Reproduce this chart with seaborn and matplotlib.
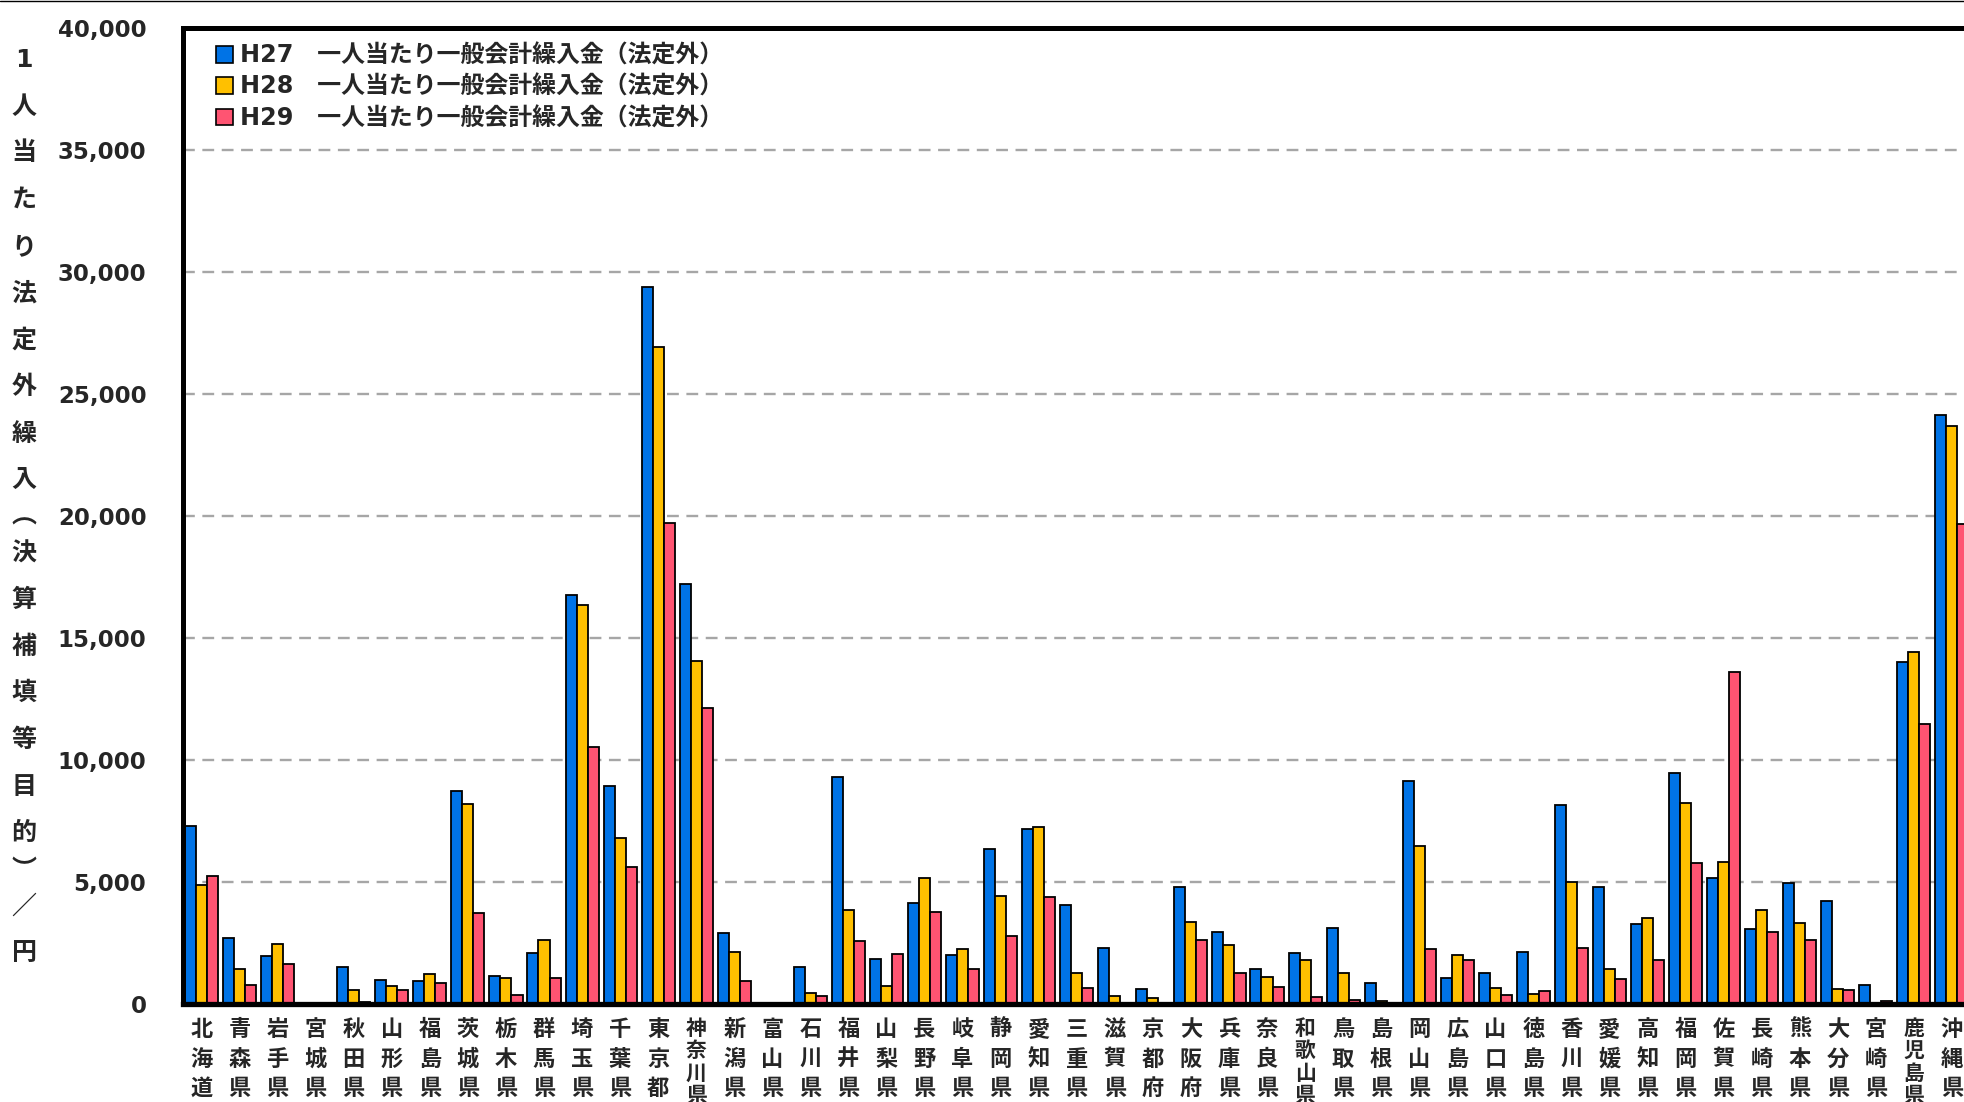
import matplotlib
matplotlib.use("Agg")
import matplotlib.pyplot as plt
import seaborn as sns
import pandas as pd
from matplotlib.lines import Line2D
from matplotlib.patches import Patch
from matplotlib.ticker import FuncFormatter, MultipleLocator

# ---- data -------------------------------------------------------------
prefectures = ["北海道", "青森県", "岩手県", "宮城県", "秋田県", "山形県", "福島県",
               "茨城県", "栃木県", "群馬県", "埼玉県", "千葉県", "東京都", "神奈川県",
               "新潟県", "富山県", "石川県", "福井県", "山梨県", "長野県", "岐阜県",
               "静岡県", "愛知県", "三重県", "滋賀県", "京都府", "大阪府", "兵庫県",
               "奈良県", "和歌山県", "鳥取県", "島根県", "岡山県", "広島県", "山口県",
               "徳島県", "香川県", "愛媛県", "高知県", "福岡県", "佐賀県", "長崎県",
               "熊本県", "大分県", "宮崎県", "鹿児島県", "沖縄県"]

h27 = [7300, 2690, 1980, 0, 1520, 970, 940, 8730, 1160, 2080, 16740, 8940, 29360,
       17190, 2920, 0, 1500, 9300, 1840, 4120, 2010, 6360, 7180, 4070, 2300, 630,
       4810, 2940, 1420, 2100, 3130, 870, 9130, 1080, 1270, 2130, 8140, 4810, 3290,
       9480, 5180, 3070, 4970, 4230, 780, 14020, 24120]
h28 = [4870, 1450, 2470, 0, 570, 720, 1240, 8200, 1080, 2620, 16350, 6810, 26900,
       14070, 2130, 0, 440, 3840, 740, 5180, 2250, 4410, 7250, 1280, 340, 230,
       3360, 2400, 1110, 1790, 1280, 120, 6470, 2020, 640, 420, 4990, 1430, 3520,
       8250, 5830, 3870, 3330, 620, 20, 14400, 23670]
h29 = [5250, 770, 1650, 0, 100, 570, 860, 3720, 380, 1070, 10540, 5610, 19720,
       12110, 930, 0, 340, 2580, 2050, 3770, 1450, 2800, 4370, 640, 0, 0,
       2620, 1260, 700, 290, 150, 0, 2250, 1790, 370, 520, 2300, 1010, 1800,
       5790, 13610, 2950, 2610, 570, 120, 11490, 19670]

series_names = ["H27　一人当たり一般会計繰入金（法定外）",
                "H28　一人当たり一般会計繰入金（法定外）",
                "H29　一人当たり一般会計繰入金（法定外）"]
series_colors = ["#0073E6", "#FFC000", "#FF5472"]

y_label = "1人当たり法定外繰入︵決算補填等目的︶／円"

# ---- long-form table ---------------------------------------------------
rows = []
for name, vals in zip(series_names, [h27, h28, h29]):
    for pref, v in zip(prefectures, vals):
        rows.append({"pref": pref, "series": name, "value": v})
df = pd.DataFrame(rows)

# ---- figure -------------------------------------------------------------
sns.set_style("white")
plt.rcParams["font.family"] = ["DejaVu Sans", "Noto Sans CJK JP"]
plt.rcParams["font.weight"] = "bold"

W, H = 1964, 1102
fig = plt.figure(figsize=(W / 100, H / 100), dpi=100)
ax_left, ax_right, ax_top, ax_bottom = 182.5, 1971, 27.5, 1004
ax = fig.add_axes([ax_left / W, (H - ax_bottom) / H,
                   (ax_right - ax_left) / W, (ax_bottom - ax_top) / H])

sns.barplot(data=df, x="pref", y="value", hue="series", order=prefectures,
            hue_order=series_names, palette=series_colors, width=0.87,
            edgecolor="black", linewidth=1.3, saturation=1, legend=False, ax=ax)

ax.set_xlim(-0.5, len(prefectures) - 0.5)
ax.set_ylim(0, 40000)
ax.yaxis.set_major_locator(MultipleLocator(5000))
ax.yaxis.set_major_formatter(FuncFormatter(lambda v, p: f"{int(v):,}"))
ax.yaxis.grid(True, color="#A6A6A6", linestyle=(0, (5, 3.2)), linewidth=1.7)
ax.xaxis.grid(False)
ax.set_axisbelow(True)

for side, lw in [("left", 3.6), ("bottom", 3.8), ("top", 3.6), ("right", 3.6)]:
    ax.spines[side].set_linewidth(lw)
    ax.spines[side].set_color("black")

ax.set_xlabel("")
ax.set_ylabel("")
ax.set_xticks(range(len(prefectures)))
ax.set_xticklabels(["\n".join(p) for p in prefectures], fontweight="bold",
                   va="top", family=["Noto Sans CJK JP"])
# four-character names are packed tighter so they fit the same column
for lbl, name in zip(ax.get_xticklabels(), prefectures):
    if len(name) > 3:
        lbl.set_fontsize(15)
        lbl.set_linespacing(1.08)
    else:
        lbl.set_fontsize(16)
        lbl.set_linespacing(1.37)
ax.tick_params(axis="x", length=0, pad=10)
ax.tick_params(axis="y", length=0, pad=26, labelsize=16.5)
for t in ax.get_yticklabels():
    t.set_fontweight("bold")

# legend
handles = [Patch(facecolor=c, edgecolor="black", linewidth=1.2) for c in series_colors]
leg = ax.legend(handles, series_names, loc="upper left",
                bbox_to_anchor=(33 / (ax_right - ax_left), 1 - 16 / (ax_bottom - ax_top)),
                frameon=False, borderpad=0, borderaxespad=0,
                handlelength=0.72, handleheight=0.7, handletextpad=0.3,
                labelspacing=0.31, prop={"size": 17.2, "weight": "bold"})

# vertical y-axis title, one character per line
y_pos = 60
prev_half = None
for ch in y_label:
    half = 0.28 if ch in "︵︶" else 0.5
    if prev_half is not None:
        y_pos += (prev_half + half) * 46.7
    fig.text(24 / W, 1 - y_pos / H, ch, ha="center", va="center",
             fontsize=18, fontweight="bold")
    prev_half = half

# thin rule across the very top
fig.add_artist(Line2D([0, 1], [1 - 0.6 / H, 1 - 0.6 / H], color="black",
                      linewidth=1.0, transform=fig.transFigure))

fig.savefig("out.png", dpi=100)
